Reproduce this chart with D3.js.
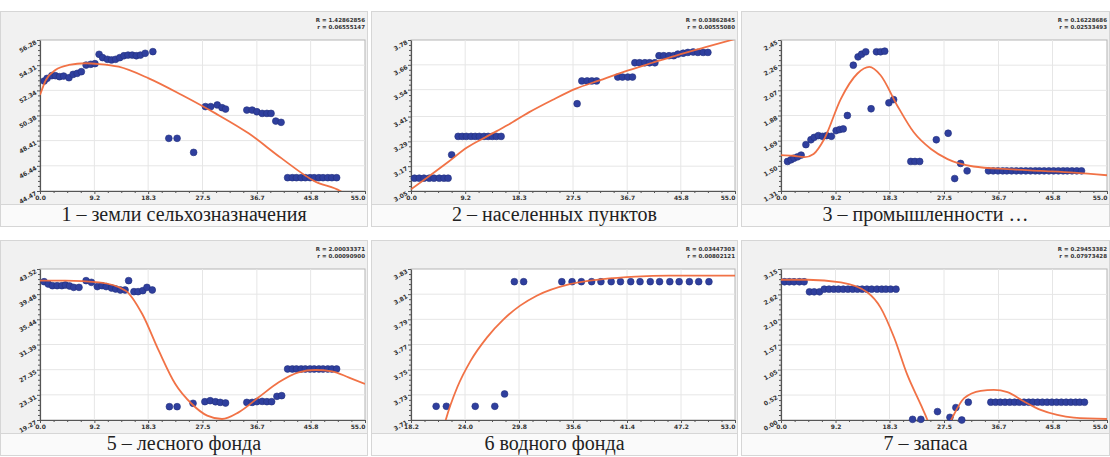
<!DOCTYPE html>
<html>
<head>
<meta charset="utf-8">
<script src="https://cdn.jsdelivr.net/npm/d3@7"></script>
<style>
  body { margin: 0; background: #fff; }
  svg { display: block; }
</style>
</head>
<body>
<script>
// tick labels
const xTicksMain = [0.0, 9.2, 18.3, 27.5, 36.7, 45.8, 55.0];
const xTicksWater = [18.2, 24.0, 29.8, 35.6, 41.4, 47.2, 53.0];
const yTicks1 = [44.47, 46.44, 48.41, 50.38, 52.34, 54.31, 56.28];
const yTicks2 = [3.05, 3.17, 3.29, 3.41, 3.54, 3.66, 3.78];
const yTicks3 = [1.31, 1.50, 1.69, 1.88, 2.07, 2.26, 2.45];
const yTicks5 = [19.27, 23.31, 27.35, 31.39, 35.44, 39.48, 43.52];
const yTicks6 = [3.71, 3.73, 3.75, 3.77, 3.79, 3.81, 3.83];
const yTicks7 = [0.00, 0.52, 1.05, 1.57, 2.10, 2.62, 3.15];

const captions = ['1 – земли сельхозназначения', '2 – населенных пунктов', '3 – промышленности …',
                  '5 – лесного фонда', '6  водного фонда', '7 – запаса'];
const fitR = [['R = 1.42862856', 'r = 0.06555147'], ['R = 0.03862845', 'r = 0.00555080'],
              ['R = 0.16228686', 'r = 0.02533493'], ['R = 2.00033371', 'r = 0.00090900'],
              ['R = 0.03447303', 'r = 0.00802121'], ['R = 0.29453382', 'r = 0.07973428']];

// observed points [x, y]
const points1 = [[0.7,53.07],[1.2,53.28],[2.0,53.49],[2.6,53.49],[3.3,53.41],[4.0,53.46],[4.9,53.33],[5.6,53.59],[6.3,53.67],[7.0,53.80],
  [7.8,54.32],[8.6,54.38],[9.3,54.43],[10.0,55.16],[10.6,54.90],[11.4,54.77],[12.1,54.72],[12.8,54.77],[13.5,54.90],[14.2,55.05],
  [14.9,55.10],[15.6,55.10],[16.3,55.05],[17.0,55.10],[17.8,55.24],[19.1,55.37],[21.8,48.59],[23.2,48.59],[26.0,47.49],
  [28.0,51.07],[28.9,51.07],[30.0,51.20],[30.8,50.99],[31.4,50.88],[35.0,50.80],[35.9,50.80],[36.7,50.67],[37.6,50.54],
  [38.4,50.54],[39.1,50.54],[39.9,49.94],[40.8,49.84],[41.9,45.51],[42.7,45.51],[43.4,45.51],[44.2,45.51],[44.9,45.51],
  [45.7,45.51],[46.4,45.51],[47.2,45.51],[47.9,45.51],[48.7,45.51],[49.4,45.51],[50.2,45.51]];
const points2 = [[0.6,3.112],[1.4,3.112],[2.2,3.112],[3.1,3.112],[3.9,3.112],[4.8,3.112],[5.6,3.112],[6.3,3.112],[6.9,3.225],
  [8.0,3.314],[8.7,3.314],[9.4,3.314],[10.2,3.314],[10.9,3.314],[11.6,3.314],[12.4,3.314],[13.1,3.314],[13.8,3.314],[14.5,3.314],[15.3,3.314],
  [28.2,3.472],[29.0,3.582],[29.9,3.582],[30.7,3.582],[31.5,3.582],[35.1,3.601],[35.9,3.601],[36.8,3.601],[37.6,3.601],
  [38.0,3.670],[38.8,3.670],[39.7,3.670],[40.5,3.670],[41.4,3.670],[42.1,3.704],[42.9,3.704],[43.8,3.704],[44.6,3.704],
  [45.3,3.712],[46.2,3.716],[47.0,3.720],[47.9,3.722],[48.7,3.720],[49.6,3.720],[50.4,3.720]];
const points3 = [[1.1,1.533],[1.7,1.546],[2.2,1.558],[2.8,1.568],[3.4,1.581],[4.2,1.660],[5.05,1.697],[5.6,1.715],[6.3,1.728],
  [7.0,1.723],[7.7,1.728],[8.5,1.723],[9.3,1.766],[9.9,1.774],[10.5,1.779],[11.2,1.880],[12.2,2.260],[13.0,2.323],[13.6,2.343],
  [14.3,2.361],[15.2,1.931],[16.1,2.361],[16.8,2.361],[17.5,2.366],[18.2,1.976],[19.0,2.000],[21.9,1.533],[22.6,1.533],[23.4,1.533],
  [26.2,1.697],[28.2,1.746],[29.3,1.404],[30.3,1.518],[31.4,1.462],[35.0,1.462],[35.8,1.462],[36.6,1.462],[37.4,1.462],[38.1,1.462],
  [38.9,1.462],[39.7,1.462],[40.5,1.462],[41.3,1.462],[42.1,1.462],[42.9,1.462],[43.6,1.462],[44.4,1.462],[45.2,1.462],[46.0,1.462],
  [46.8,1.462],[47.6,1.462],[48.3,1.462],[49.1,1.462],[49.9,1.462],[50.7,1.462]];
const points5 = [[0.7,41.48],[1.4,41.11],[2.1,40.84],[2.9,40.84],[3.7,40.84],[4.3,40.95],[5.0,40.79],[5.7,40.57],[6.6,40.57],
  [7.8,41.65],[8.7,41.38],[9.7,40.69],[10.5,40.84],[11.2,40.69],[12.1,40.47],[12.8,40.31],[13.6,40.15],[14.4,40.15],[15.0,41.65],
  [15.9,39.88],[16.6,39.88],[17.4,40.04],[18.1,40.57],[19.0,40.15],[21.9,21.41],[23.2,21.41],[25.9,21.95],[27.9,22.21],[28.8,22.37],
  [29.7,22.20],[30.5,22.10],[31.4,22.00],[35.0,22.10],[35.9,22.10],[36.7,22.21],[37.6,22.26],[38.4,22.21],[39.2,22.21],
  [40.1,23.07],[40.9,23.18],[41.9,27.46],[42.7,27.46],[43.4,27.46],[44.2,27.46],[44.9,27.46],[45.7,27.46],[46.4,27.46],
  [47.2,27.46],[47.9,27.46],[48.7,27.46],[49.4,27.46],[50.2,27.46]];
const points6 = [[20.9,3.7209],[22.0,3.7209],[25.1,3.7209],[27.2,3.7209],[28.25,3.7307],[29.3,3.8199],[30.3,3.8199],
  [34.4,3.8199],[35.5,3.8199],[36.5,3.8199],[37.6,3.8199],[38.6,3.8199],[39.7,3.8199],[40.7,3.8199],[41.8,3.8199],
  [42.8,3.8199],[43.9,3.8199],[44.9,3.8199],[46.0,3.8199],[47.0,3.8199],[48.1,3.8199],[49.1,3.8199],[50.2,3.8199]];
const points7 = [[0.6,2.884],[1.4,2.884],[2.2,2.884],[3.1,2.884],[3.9,2.884],[4.8,2.674],[5.6,2.674],[6.5,2.674],
  [7.3,2.73],[8.1,2.73],[8.9,2.73],[9.7,2.73],[10.5,2.73],[11.3,2.73],[12.1,2.73],[12.9,2.73],[13.7,2.73],[14.5,2.73],
  [15.3,2.73],[16.2,2.73],[17.0,2.73],[17.7,2.73],[18.5,2.73],[19.4,2.73],[22.2,0.014],[23.6,0.014],[26.4,0.175],[28.5,0.056],
  [29.5,0.259],[30.5,0.0],[31.6,0.371],[35.4,0.371],[36.2,0.371],[37.0,0.371],[37.8,0.371],[38.6,0.371],[39.4,0.371],
  [40.2,0.371],[41.0,0.371],[41.8,0.371],[42.5,0.371],[43.3,0.371],[44.1,0.371],[44.9,0.371],[45.7,0.371],[46.5,0.371],
  [47.3,0.371],[48.1,0.371],[48.9,0.371],[49.7,0.371],[50.4,0.371],[51.2,0.371]];

// fitted curves [x, y]
const curve1 = [[0,51.98],[1,53.15],[2.6,53.93],[4.9,54.33],[7.7,54.46],[10,54.40],[13.3,54.19],[18.4,53.28],[24,51.98],
  [29.7,50.54],[35.3,48.98],[40.9,47.02],[46.6,45.2],[50.8,44.47],[52.5,43.9]];
const curve2 = [[0,3.058],[3,3.12],[6.3,3.19],[9.5,3.26],[12.9,3.314],[16.5,3.37],[20,3.43],[24,3.49],[28,3.545],[32,3.585],
  [36,3.625],[41,3.67],[45,3.705],[50,3.745],[55,3.785]];
const curve3 = [[0,1.581],[2,1.576],[4,1.566],[5.5,1.59],[7.3,1.703],[10.1,2.006],[12.9,2.197],[14.9,2.247],[16.8,2.184],
  [19.6,1.956],[22.4,1.753],[25.3,1.627],[28.1,1.551],[32.5,1.495],[38.2,1.475],[43.8,1.462],[49.4,1.449],[55,1.429]];
const curve5 = [[0,41.65],[4.3,41.65],[10,41.38],[14.5,40.04],[17.3,36.29],[20.1,30.4],[22.9,25.05],[25.7,21.84],[28.3,19.97],
  [30.8,19.43],[33.6,20.5],[37.0,22.91],[40.4,25.32],[43.75,26.92],[46.6,27.3],[49.4,27.09],[52.2,26.12],[55,25.05]];
const curve6 = [[21.57,3.70],[21.93,3.71],[23.17,3.736],[24.6,3.757],[26.37,3.7757],[28.14,3.79],[29.92,3.8009],[31.7,3.8088],
  [35.25,3.818],[38.8,3.822],[42.35,3.824],[45.9,3.8247],[53,3.8247]];
const curve7 = [[0,2.926],[4.5,2.926],[10.1,2.87],[14.6,2.66],[16.8,2.345],[19.1,1.715],[21.3,0.945],[23.6,0.315],[24.7,0.0],
  [25.5,-0.3],[27.5,-0.3],[28.7,0.0],[30.9,0.455],[33.7,0.609],[35.9,0.63],[38.2,0.581],[41.0,0.385],[43.8,0.21],
  [46.6,0.105],[49.4,0.049],[55,0.021]];

const W = 1110, H = 457;
const colX = [0, 371, 741];
const rowY = [0, 229];
const panelW = [368, 367, 369];
const panelH = 227;

const panels = [
  { xt: xTicksMain, yt: yTicks1, pts: points1, fit: curve1 },
  { xt: xTicksMain, yt: yTicks2, pts: points2, fit: curve2 },
  { xt: xTicksMain, yt: yTicks3, pts: points3, fit: curve3 },
  { xt: xTicksMain, yt: yTicks5, pts: points5, fit: curve5 },
  { xt: xTicksWater, yt: yTicks6, pts: points6, fit: curve6 },
  { xt: xTicksMain, yt: yTicks7, pts: points7, fit: curve7 }
];

const svg = d3.select('body').append('svg')
  .attr('width', W)
  .attr('height', H);

panels.forEach((p, i) => {
  const col = i % 3, row = Math.floor(i / 3);
  const ox = colX[col], oy = rowY[row], pw = panelW[col];
  const g = svg.append('g').attr('transform', `translate(${ox},${oy})`);

  // panel background and caption band
  g.append('rect').attr('x', 0.5).attr('y', 11.5).attr('width', pw - 1).attr('height', 193)
    .attr('fill', '#f1f1f1').attr('stroke', '#d6d6d6');
  g.append('rect').attr('x', 0.5).attr('y', 204.5).attr('width', pw - 1).attr('height', panelH - 205)
    .attr('fill', '#fafafa').attr('stroke', '#d6d6d6');

  const left = 40, right = pw - 3, top = 40, bottom = 191;
  const x = d3.scaleLinear().domain([p.xt[0], p.xt[p.xt.length - 1]]).range([left, right]);
  const y = d3.scaleLinear().domain([p.yt[0], p.yt[p.yt.length - 1]]).range([bottom, top]);

  g.append('rect').attr('x', left).attr('y', top).attr('width', right - left).attr('height', bottom - top)
    .attr('fill', '#fff').attr('stroke', '#b5b5b5');

  // grid
  g.append('g').selectAll('line').data(p.xt.slice(1, -1)).enter().append('line')
    .attr('x1', d => x(d)).attr('x2', d => x(d)).attr('y1', top).attr('y2', bottom)
    .attr('stroke', '#e6e6e6');
  g.append('g').selectAll('line').data(p.yt.slice(1, -1)).enter().append('line')
    .attr('x1', left).attr('x2', right).attr('y1', d => y(d)).attr('y2', d => y(d))
    .attr('stroke', '#e6e6e6');

  // minor ticks
  const minorX = [], minorY = [];
  for (let k = 0; k < p.xt.length - 1; k++)
    for (let m = 1; m < 4; m++) minorX.push(p.xt[k] + (p.xt[k + 1] - p.xt[k]) * m / 4);
  for (let k = 0; k < p.yt.length - 1; k++)
    for (let m = 1; m < 5; m++) minorY.push(p.yt[k] + (p.yt[k + 1] - p.yt[k]) * m / 5);

  const xAxis = g.append('g').attr('transform', `translate(0,${bottom})`)
    .call(d3.axisBottom(x).tickValues(p.xt).tickFormat(d3.format('.1f')).tickSize(3).tickSizeOuter(0));
  g.append('g').attr('transform', `translate(0,${bottom})`)
    .call(d3.axisBottom(x).tickValues(minorX).tickFormat('').tickSize(2).tickSizeOuter(0))
    .select('.domain').remove();
  const yAxis = g.append('g').attr('transform', `translate(${left},0)`)
    .call(d3.axisLeft(y).tickValues(p.yt).tickFormat(d3.format('.2f')).tickSize(3).tickSizeOuter(0));
  g.append('g').attr('transform', `translate(${left},0)`)
    .call(d3.axisLeft(y).tickValues(minorY).tickFormat('').tickSize(2).tickSizeOuter(0))
    .select('.domain').remove();

  g.selectAll('.domain').attr('stroke', '#555').attr('stroke-width', 1.2);
  g.selectAll('.tick line').attr('stroke', '#555');
  xAxis.selectAll('text').attr('font-family', 'DejaVu Sans').attr('font-weight', 'bold')
    .attr('font-size', 6).attr('fill', '#333').attr('y', 4).attr('dy', '0.8em');
  // keep the last x label inside the panel
  xAxis.selectAll('.tick:last-of-type text').attr('text-anchor', 'end');
  yAxis.selectAll('text').attr('font-family', 'DejaVu Sans').attr('font-weight', 'bold')
    .attr('font-size', 6).attr('fill', '#333')
    .attr('transform', 'rotate(-30)').attr('x', -4).attr('dy', '0.2em');

  // clip
  const clipId = 'clip' + i;
  g.append('clipPath').attr('id', clipId).append('rect')
    .attr('x', left).attr('y', top).attr('width', right - left).attr('height', bottom - top);

  const line = d3.line().x(d => x(d[0])).y(d => y(d[1])).curve(d3.curveMonotoneX);

  g.append('g').selectAll('circle').data(p.pts).enter().append('circle')
    .attr('cx', d => x(d[0])).attr('cy', d => y(d[1])).attr('r', 3.4)
    .attr('fill', '#2f3f9e').attr('stroke', '#23307e').attr('stroke-width', 0.6);

  g.append('path').datum(p.fit).attr('d', line).attr('clip-path', `url(#${clipId})`)
    .attr('fill', 'none').attr('stroke', '#f06a3c').attr('stroke-width', 1.8).attr('opacity', 0.95);

  // fit stats
  g.append('g').selectAll('text').data(fitR[i]).enter().append('text')
    .attr('x', right).attr('y', (d, k) => 22 + k * 7)
    .attr('text-anchor', 'end').attr('font-family', 'DejaVu Sans').attr('font-weight', 'bold')
    .attr('font-size', 5.5).attr('fill', '#333').text(d => d);

  g.append('text').attr('x', pw / 2).attr('y', 221).attr('text-anchor', 'middle')
    .attr('font-family', 'Liberation Serif').attr('font-size', 20).attr('fill', '#222')
    .text(captions[i]);
});
</script>
</body>
</html>
